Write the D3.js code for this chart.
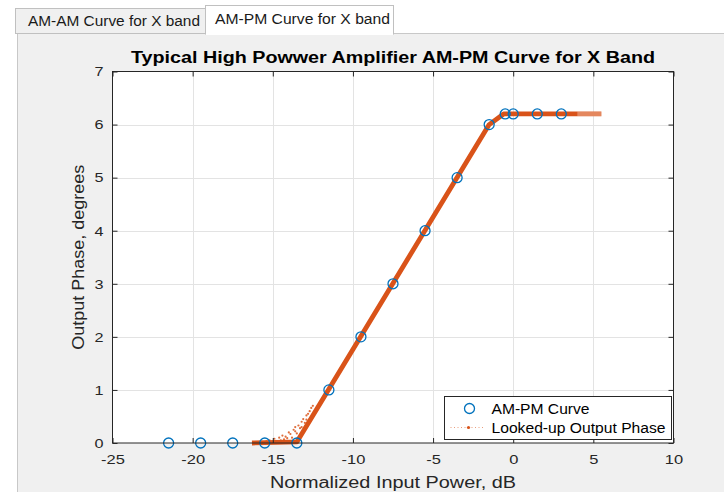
<!DOCTYPE html>
<html>
<head>
<meta charset="utf-8">
<script src="https://cdn.jsdelivr.net/npm/d3@7"></script>
<style>
  html, body { margin: 0; padding: 0; background: #ffffff; }
  svg { display: block; font-family: "Liberation Sans", Arial, Helvetica, sans-serif; }
</style>
</head>
<body>
<script>
// ---- data ----
const tabLabels = ["AM-AM Curve for X band", "AM-PM Curve for X band"];
const titleText = "Typical High Powwer Amplifier AM-PM Curve for X Band";
const xLabelText = "Normalized Input Power, dB";
const yLabelText = "Output Phase, degrees";
const xTicks = [-25, -20, -15, -10, -5, 0, 5, 10];
const yTicks = [0, 1, 2, 3, 4, 5, 6, 7];
const seriesNames = ["AM-PM Curve", "Looked-up Output Phase"];

// AM-PM reference points (circles)
const amInput = [-21.5, -19.5, -17.5, -15.5, -13.5, -11.5, -9.5, -7.5, -5.5, -3.5, -1.5, -0.5, 0, 1.5, 3];
const pmPhase = [0, 0, 0, 0, 0, 1, 2, 3, 4, 5, 6, 6.2, 6.2, 6.2, 6.2];

// Looked-up output phase (main trace)
const lookupX = [-16.3, -13.5, -1.5, -0.6, 5.5];
const lookupY = [0.0, 0.02, 6.0, 6.2, 6.2];

// Looked-up output phase (scattered samples near the knee)
const scatterX = [-15.4, -15.2, -14.9, -14.8, -14.6, -14.4, -14.3, -14.2, -14.0, -13.9, -13.8, -13.7, -13.6, -13.5, -13.4, -13.3, -13.3, -13.2, -13.1, -13.0, -12.9, -12.8, -12.7, -14.1, -13.6, -13.2, -12.9, -12.6, -12.5, -13.0, -14.5, -15.0];
const scatterY = [0.03, 0.05, 0.08, 0.04, 0.1, 0.14, 0.07, 0.12, 0.2, 0.17, 0.1, 0.25, 0.3, 0.18, 0.33, 0.28, 0.15, 0.4, 0.45, 0.38, 0.52, 0.55, 0.6, 0.09, 0.22, 0.3, 0.44, 0.66, 0.7, 0.25, 0.05, 0.02];

// ---- drawing ----
const W = 724, H = 492;
const svg = d3.select("body").append("svg").attr("width", W).attr("height", H);

const blue = "#0072BD", orange = "#D95319", axisCol = "#262626";
const fmt = d => String(d); // hyphen-minus like the reference

function fitText(sel, len) {
  return sel.attr("textLength", len).attr("lengthAdjust", "spacingAndGlyphs");
}

// figure background / tabs
svg.append("rect").attr("x", 0).attr("y", 0).attr("width", W).attr("height", H).attr("fill", "#ffffff");
svg.append("rect").attr("x", 17.5).attr("y", 33.5).attr("width", W - 17).attr("height", H - 33)
  .attr("fill", "#f0f0f0").attr("stroke", "#c8c8c8").attr("stroke-width", 1);
// tab 1
svg.append("rect").attr("x", 15.5).attr("y", 8.5).attr("width", 190).attr("height", 25)
  .attr("fill", "#f0f0f0").attr("stroke", "#c0c0c0");
fitText(svg.append("text").attr("x", 28).attr("y", 26).attr("font-size", 14).attr("fill", "#1a1a1a").text(tabLabels[0]), 172);
// tab 2 (selected)
svg.append("rect").attr("x", 205.5).attr("y", 5.5).attr("width", 188).attr("height", 28.5)
  .attr("fill", "#ffffff").attr("stroke", "#c0c0c0");
svg.append("rect").attr("x", 206).attr("y", 32).attr("width", 187).attr("height", 3).attr("fill", "#ffffff");
fitText(svg.append("text").attr("x", 215).attr("y", 24).attr("font-size", 14).attr("fill", "#1a1a1a").text(tabLabels[1]), 175);

// plot area
const L = 112.5, R = 673.5, T = 71.5, B = 443;
const x = d3.scaleLinear().domain([-25, 10]).range([L, R]);
const y = d3.scaleLinear().domain([0, 7]).range([B, T]);

svg.append("rect").attr("x", L).attr("y", T).attr("width", R - L).attr("height", B - T).attr("fill", "#ffffff");

// grid
const grid = svg.append("g").attr("stroke", "#e3e3e3").attr("stroke-width", 1);
grid.selectAll("line.gx").data(xTicks.slice(1, -1)).join("line")
  .attr("x1", d => Math.round(x(d)) + 0.5).attr("x2", d => Math.round(x(d)) + 0.5).attr("y1", T).attr("y2", B);
grid.selectAll("line.gy").data(yTicks.slice(1, -1)).join("line")
  .attr("y1", d => Math.round(y(d)) + 0.5).attr("y2", d => Math.round(y(d)) + 0.5).attr("x1", L).attr("x2", R);

// looked-up trace
const lineGen = d3.line().x(d => x(d[0])).y(d => y(d[1]));
const lookPts = lookupX.map((v, i) => [v, lookupY[i]]);
svg.append("path").datum(lookPts).attr("d", lineGen)
  .attr("fill", "none").attr("stroke", orange).attr("stroke-width", 4.8)
  .attr("stroke-linejoin", "round");
// fading tail
svg.append("path").datum([[4.0, 6.2], [5.5, 6.2]]).attr("d", lineGen)
  .attr("fill", "none").attr("stroke", "#ffffff").attr("stroke-opacity", 0.3).attr("stroke-width", 4.8);

svg.append("g").attr("fill", orange).selectAll("circle")
  .data(scatterX.map((v, i) => [v, scatterY[i]])).join("circle")
  .attr("cx", d => x(d[0])).attr("cy", d => y(d[1])).attr("r", 1.1).attr("opacity", 0.85);

// AM-PM circles
svg.append("g").selectAll("circle").data(amInput.map((v, i) => [v, pmPhase[i]])).join("circle")
  .attr("cx", d => x(d[0])).attr("cy", d => y(d[1])).attr("r", 5)
  .attr("fill", "none").attr("stroke", blue).attr("stroke-width", 1.3);

// axes box
svg.append("rect").attr("x", L).attr("y", T).attr("width", R - L).attr("height", B - T)
  .attr("fill", "none").attr("stroke", axisCol).attr("stroke-width", 1);

const xAxisB = d3.axisBottom(x).tickValues(xTicks).tickSize(-5).tickPadding(11).tickFormat(fmt);
const xAxisT = d3.axisTop(x).tickValues(xTicks).tickSize(-5).tickFormat("");
const yAxisL = d3.axisLeft(y).tickValues(yTicks).tickSize(-5).tickPadding(9).tickFormat(fmt);
const yAxisR = d3.axisRight(y).tickValues(yTicks).tickSize(-5).tickFormat("");

function styleAxis(g) {
  g.select(".domain").remove();
  g.selectAll("line").attr("stroke", axisCol);
  g.selectAll("text").attr("fill", axisCol).attr("font-size", 13.5)
    .attr("font-family", "'Liberation Sans', Arial, Helvetica, sans-serif");
}
const gxb = svg.append("g").attr("transform", `translate(0,${B})`).call(xAxisB).call(styleAxis);
gxb.selectAll("text").each(function() {
  const t = d3.select(this); const w = this.getComputedTextLength();
  t.attr("textLength", w * 1.22).attr("lengthAdjust", "spacingAndGlyphs");
});
svg.append("g").attr("transform", `translate(0,${T})`).call(xAxisT).call(styleAxis);
const gyl = svg.append("g").attr("transform", `translate(${L},0)`).call(yAxisL).call(styleAxis);
gyl.selectAll("text").each(function() {
  const t = d3.select(this); const w = this.getComputedTextLength();
  t.attr("textLength", w * 1.2).attr("lengthAdjust", "spacingAndGlyphs");
});
svg.append("g").attr("transform", `translate(${R},0)`).call(yAxisR).call(styleAxis);

// title & labels
fitText(svg.append("text").attr("x", 393).attr("y", 63).attr("text-anchor", "middle")
  .attr("font-size", 16).attr("font-weight", "bold").attr("fill", "#000").text(titleText), 524);
fitText(svg.append("text").attr("x", 393).attr("y", 488).attr("text-anchor", "middle")
  .attr("font-size", 16).attr("fill", axisCol).text(xLabelText), 246);
fitText(svg.append("text").attr("transform", `translate(84,${(T + B) / 2}) rotate(-90)`).attr("text-anchor", "middle")
  .attr("font-size", 16.5).attr("fill", axisCol).text(yLabelText), 185);

// legend
const lg = svg.append("g");
const lgX = 444.5, lgY = 396.5, lgW = 227, lgH = 43;
lg.append("rect").attr("x", lgX).attr("y", lgY).attr("width", lgW).attr("height", lgH)
  .attr("fill", "#ffffff").attr("stroke", axisCol).attr("stroke-width", 1);
lg.append("circle").attr("cx", lgX + 25).attr("cy", lgY + 12).attr("r", 5)
  .attr("fill", "none").attr("stroke", blue).attr("stroke-width", 1.3);
fitText(lg.append("text").attr("x", lgX + 47).attr("y", lgY + 17).attr("font-size", 14).attr("fill", "#000").text(seriesNames[0]), 98);
lg.append("line").attr("x1", lgX + 6).attr("x2", lgX + 41).attr("y1", lgY + 31).attr("y2", lgY + 31)
  .attr("stroke", orange).attr("stroke-width", 0.8).attr("stroke-dasharray", "1,2.5").attr("opacity", 0.7);
lg.append("circle").attr("cx", lgX + 24).attr("cy", lgY + 31).attr("r", 1.6).attr("fill", orange);
fitText(lg.append("text").attr("x", lgX + 47).attr("y", lgY + 36).attr("font-size", 14).attr("fill", "#000").text(seriesNames[1]), 174);
</script>
</body>
</html>
